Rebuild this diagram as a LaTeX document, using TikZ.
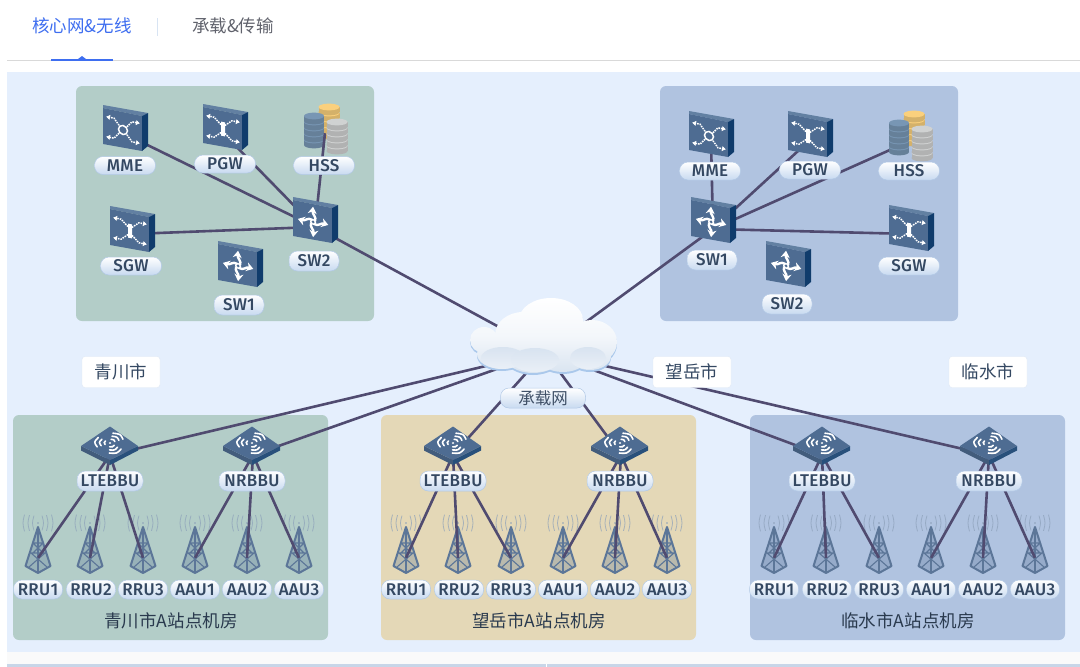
\documentclass[tikz,border=0pt]{standalone}
\usepackage{fontspec}
\setmainfont{Noto Sans CJK SC}
\newfontfamily\labelfont[LetterSpace=2]{Fira Sans Medium}
\usetikzlibrary{arrows.meta}

\definecolor{pagebg}{RGB}{229,239,253}
\definecolor{stripbg}{RGB}{250,250,250}
\definecolor{footbg}{RGB}{200,214,232}
\definecolor{panelgreen}{RGB}{179,205,200}
\definecolor{panelblue}{RGB}{176,195,224}
\definecolor{paneltan}{RGB}{228,216,183}
\definecolor{wirecol}{RGB}{80,75,112}
\definecolor{tabblue}{RGB}{62,110,240}
\definecolor{tabgray}{RGB}{96,98,108}
\definecolor{devfront}{RGB}{78,108,146}
\definecolor{devtop}{RGB}{98,128,162}
\definecolor{devside}{RGB}{16,60,108}
\definecolor{towercol}{RGB}{92,118,152}
\definecolor{wavecol}{RGB}{140,160,185}
\definecolor{pillbot}{RGB}{200,218,240}
\definecolor{pilledge}{RGB}{178,201,230}
\definecolor{pilltext}{RGB}{52,72,98}
\definecolor{dbblue}{RGB}{120,150,180}
\definecolor{dborange}{RGB}{250,208,125}
\definecolor{dbgray}{RGB}{208,210,210}
\definecolor{cloudedge}{RGB}{170,200,235}
\definecolor{cloudbot}{RGB}{216,227,240}

\tikzset{
  devbody/.pic={
    \fill[devtop] (-22,-20) -- (-22,-23) -- (23,-15) -- (17,-12) -- cycle;
    \fill[devfront] (-22,-20) -- (17,-12) -- (17,23) -- (-22,16) -- cycle;
    \fill[devside] (17,-12) -- (23,-15) -- (23,18) -- (17,23) -- cycle;
  },
  gateway/.pic={
    \pic {devbody};
    \begin{scope}[shift={(-2,2)},cm={1,-0.2,0,1,(0,0)}]
      \foreach \sx/\sy in {-1/-1,1/-1,-1/1,1/1}
        \draw[white,densely dotted,line width=1.5,-{Latex[length=4,width=5.5]}]
          (\sx*2,\sy*4) -- (\sx*9,\sy*10) -- (\sx*17,\sy*10);
      \fill[white] (-2,-7) rectangle (2,7);
    \end{scope}
  },
  mmebox/.pic={
    \pic {devbody};
    \begin{scope}[shift={(-2,2)},cm={1,-0.2,0,1,(0,0)}]
      \foreach \sx/\sy in {-1/-1,1/-1,-1/1,1/1}
        \draw[white,densely dotted,line width=1.5,-{Latex[length=4,width=5.5]}]
          (\sx*4,\sy*4) -- (\sx*9,\sy*10) -- (\sx*17,\sy*10);
      \draw[white,line width=1.5] (0,0) circle (4.5);
    \end{scope}
  },
  swbox/.pic={
    \pic {devbody};
    \begin{scope}[shift={(-2,2)},cm={1,-0.2,0,1,(0,0)}]
      \foreach \a in {0,90,180,270}
        \draw[rotate=\a,white,line width=2.4,-{Stealth[length=7,width=9]}]
          (1,2) .. controls (6,4) and (8,-1) .. (16,0);
      \fill[white] (0,0) circle (3.2);
      \fill[devfront] (0,0) circle (1.6);
    \end{scope}
  },
  bbubox/.pic={
    \fill[devfront!85!black] (-29,0) -- (0,14) -- (0,19) -- (-29,4.5) -- cycle;
    \fill[devside!90!white] (28,0) -- (0,14) -- (0,19) -- (28,4.5) -- cycle;
    \fill[devfront] (0,-19.5) -- (28,0) -- (0,14) -- (-29,0) -- cycle;
    \begin{scope}[shift={(0,-3)},yscale=0.72]
      \foreach \a in {25,140,265}
        \foreach \r in {5.5,10,14.5}
          \draw[rotate=\a,white,line width=1.6,line cap=round]
            (-\r*0.45,\r*0.85) .. controls (0,\r*1.12) .. (\r*0.45,\r*0.85);
      \fill[white] (0,0) circle (1.3);
    \end{scope}
  },
  towerbox/.pic={
    \foreach \sx in {-1,1} {
      \foreach \r in {4,8.5,13.5}
        \draw[wavecol,line width=0.8,opacity=0.7] (\sx*\r,-7-\r*0.1) .. controls (\sx*\r+\sx*2,0) .. (\sx*\r,7+\r*0.1);
    }
    \fill[wavecol] (0,0) circle (0.9);
    \fill[towercol,opacity=0.3] (0,4) -- (-12.5,43) -- (0,50) -- (12.5,43) -- cycle;
    \draw[towercol,line width=2,line join=round] (0,4) -- (-12.5,43) -- (0,50) -- (12.5,43) -- cycle;
    \draw[towercol,line width=1.3] (0,4) -- (0,50);
    \draw[towercol,line width=1.1] (-5,20) -- (5,30) (5,20) -- (-5,30) (-7,30) -- (9,44) (7,30) -- (-9,44) (-8.5,30) -- (8.5,30) (-5,20) -- (5,20);
  },
  dbstack/.pic={
    \foreach \y in {24,18,12,6,0} {
      \fill[\dbcol!85!black] (-\dbw,\y) rectangle (\dbw,\y+5);
      \fill[\dbcol!85!black] (0,\y+5) ellipse (\dbw pt and 3.4pt);
      \fill[\dbcol] (0,\y) ellipse (\dbw pt and 3.4pt);
    }
  },
  hssbox/.pic={
    \def\dbw{10.5}
    \begin{scope}[shift={(4,-21)}]\def\dbcol{dborange}\pic {dbstack};\end{scope}
    \def\dbw{10}
    \begin{scope}[shift={(-11,-12)}]\def\dbcol{dbblue}\pic {dbstack};\end{scope}
    \def\dbw{10.5}
    \begin{scope}[shift={(12,-6)}]\def\dbcol{dbgray}\pic {dbstack};\end{scope}
  },
}

\begin{document}
\begin{tikzpicture}[x=1pt,y=-1pt,>=Latex]
  \tikzstyle{panel}=[rounded corners=6pt]
  \tikzstyle{wire}=[draw=wirecol,line width=2.6]
  \tikzstyle{spot}=[inner sep=0pt,minimum size=0pt]
  \tikzstyle{pill}=[rounded corners=8.5pt,inner sep=0pt,top color=white,bottom color=pillbot,draw=pilledge,line width=0.5,text=pilltext,font=\labelfont\fontsize{17}{18}\selectfont]
  \tikzstyle{devlab}=[pill,minimum width=61,minimum height=18]
  \tikzstyle{swlab}=[pill,minimum width=50,minimum height=20]
  \tikzstyle{bbulab}=[pill,minimum width=66,minimum height=20]
  \tikzstyle{ranlab}=[pill,minimum width=49,minimum height=19]
  \tikzstyle{city}=[fill=white,draw=pilledge!40,rounded corners=3pt,minimum width=78,minimum height=31,inner sep=0pt,text=pilltext,font=\fontsize{17.5}{20}\selectfont]
  \tikzstyle{room}=[text=pilltext!80!black,font=\fontsize{17.5}{20}\selectfont]
  \useasboundingbox (0,0) rectangle (1080,667);
  \fill[white] (0,0) rectangle (1080,667);
  % tabs
  \node[text=tabblue,font=\fontsize{17.5}{20}\selectfont] (tabcore) at (82,26) {核心网\&无线};
  \node[text=tabgray,font=\fontsize{17.5}{20}\selectfont] (tabbear) at (233,26) {承载\&传输};
  \draw[pilledge!50,line width=0.8] (157,18) -- (157,36);
  \fill[black!15] (7,60) rectangle (1080,61);
  \fill[tabblue] (51,59) rectangle (113,61);
  \fill[tabblue] (78,59) -- (82,56) -- (86,59) -- cycle;
  % backgrounds
  \fill[pagebg] (7,72) rectangle (1080,652);
  \fill[stripbg] (7,652) rectangle (1080,664);
  \fill[footbg] (7,664) rectangle (1080,667);
  \fill[white] (545.5,664) rectangle (546.5,667);
  \fill[panelgreen,panel] (76,86) rectangle (374,321);
  \fill[panelblue,panel] (660,86) rectangle (958,321);
  \fill[panelgreen,panel] (13,415) rectangle (328,640);
  \fill[paneltan,panel] (381,415) rectangle (696,640);
  \fill[panelblue,panel] (750,415) rectangle (1065,640);
  % towers
  \foreach \ofs in {0,368,736}
    \foreach \tx in {38,90,143,195,247,299}
      \pic at (\tx+\ofs,523) {towerbox};
  % spots
  \node[spot] (cloud) at (545,352) {};
  \node[spot] (lMME) at (125,134) {};
  \node[spot] (lPGW) at (225,135) {};
  \node[spot] (lHSS) at (325,133) {};
  \node[spot] (lSGW) at (132,234) {};
  \node[spot] (lSW) at (315,227) {};
  \node[spot] (rMME) at (711,140) {};
  \node[spot] (rPGW) at (810,140) {};
  \node[spot] (rHSS) at (910,141) {};
  \node[spot] (rSGW) at (911,234) {};
  \node[spot] (rSW) at (713,229) {};
  \foreach \s/\lx/\nx/\ofs in {a/110/253/0,b/453/621/368,c/822/989/736} {
    \node[spot] (\s lte) at (\lx,455) {};
    \node[spot] (\s nr) at (\nx,455) {};
    \foreach \n/\tx in {RRU1/38,RRU2/90,RRU3/143,AAU1/195,AAU2/247,AAU3/299}
      \node[spot] (\s\n) at (\tx+\ofs,558) {};
    \draw[wire] (\s lte) -- (\s RRU1);
    \draw[wire] (\s lte) -- (\s RRU2);
    \draw[wire] (\s lte) -- (\s RRU3);
    \draw[wire] (\s nr) -- (\s AAU1);
    \draw[wire] (\s nr) -- (\s AAU2);
    \draw[wire] (\s nr) -- (\s AAU3);
    \draw[wire] (\s lte) -- (cloud);
    \draw[wire] (\s nr) -- (cloud);
  }
  \foreach \n in {MME,PGW,SGW} {
    \draw[wire] (l\n) -- (lSW);
    \draw[wire] (r\n) -- (rSW);
  }
  \draw[wire] (rHSS) -- (rSW);
  \draw[wire] (lSW) -- (cloud);
  \draw[wire] (rSW) -- (cloud);
  % left core
  \pic at (125,128) {mmebox};
  \pic at (225,127) {gateway};
  \pic at (325,128) {hssbox};
  \pic at (132,229) {gateway};
  \draw[wire] (lHSS) -- (lSW);
  \pic[scale=0.95] at (240,264) {swbox};
  \pic[scale=0.95] at (315,220) {swbox};
  \node[devlab] (lMMElab) at (125,165.5) {MME};
  \node[devlab] (lPGWlab) at (225,164) {PGW};
  \node[devlab] (lHSSlab) at (324,165.5) {HSS};
  \node[devlab] (lSGWlab) at (131,266) {SGW};
  \node[swlab] (lSW1lab) at (239,305) {SW1};
  \node[swlab] (lSW2lab) at (314,261) {SW2};
  % right core
  \pic at (711,134) {mmebox};
  \pic at (810,134) {gateway};
  \pic at (910,135) {hssbox};
  \pic at (911,228) {gateway};
  \pic[scale=0.95] at (713,220) {swbox};
  \pic[scale=0.95] at (788,264) {swbox};
  \node[devlab] (rMMElab) at (710,171) {MME};
  \node[devlab] (rPGWlab) at (810,170) {PGW};
  \node[devlab] (rHSSlab) at (909,171) {HSS};
  \node[devlab] (rSGWlab) at (909,266) {SGW};
  \node[swlab] (rSW1lab) at (712,260) {SW1};
  \node[swlab] (rSW2lab) at (787,304) {SW2};
  % radio sites
  \foreach \s/\lx/\nx/\ofs/\rx/\rtext in {a/110/252/0/171/青川市A站点机房,b/453/620/368/539/望岳市A站点机房,c/822/989/736/908/临水市A站点机房} {
    \pic at (\lx,446) {bbubox};
    \pic at (\nx,446) {bbubox};
    \node[bbulab] (\s ltelab) at (\lx,481) {LTEBBU};
    \node[bbulab] (\s nrlab) at (\nx,481) {NRBBU};
    \foreach \n/\tx in {RRU1/38,RRU2/91,RRU3/143,AAU1/195,AAU2/247,AAU3/299}
      \node[ranlab] (\s\n lab) at (\tx+\ofs,589.5) {\n};
    \node[room] (\s room) at (\rx,621) {\rtext};
  }
  % cloud
  \foreach \cx/\cy/\crx/\cry in {551/320/32/22,523/335/28/23,484/340/14/13,592/342/25/22,502/354/25/15,533/356/28/17,563/355/26/17,590/356/21/14}
    \fill[cloudedge] (\cx,\cy+2) ellipse (\crx pt and \cry pt);
  \begin{scope}
    \clip (551,320) ellipse (32pt and 22pt) (523,335) ellipse (28pt and 23pt) (484,340) ellipse (14pt and 13pt) (592,342) ellipse (25pt and 22pt) (502,354) ellipse (25pt and 15pt) (533,356) ellipse (28pt and 17pt) (563,355) ellipse (26pt and 17pt) (590,356) ellipse (21pt and 14pt);
    \shade[top color=white,bottom color=cloudbot,middle color=white!70!cloudbot] (465,298) rectangle (620,375);
    \foreach \cx/\cy/\crx/\cry in {503/358/22/11,535/360/24/12,588/358/18/11}
      \shade[top color=cloudbot,bottom color=white!45!cloudbot] (\cx,\cy) ellipse (\crx pt and \cry pt);
  \end{scope}
  \node[pill,minimum width=85,minimum height=20,font=\fontsize{16.5}{18}\selectfont,text=pilltext!85!gray] (bearer) at (543,398) {承载网};
  \node[city] (cityq) at (121,372) {青川市};
  \node[city] (cityw) at (692,372) {望岳市};
  \node[city] (cityl) at (988,372) {临水市};
\end{tikzpicture}
\end{document}
